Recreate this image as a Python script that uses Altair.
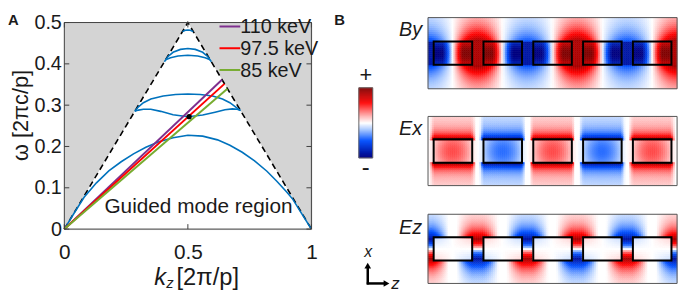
import numpy as np
import pandas as pd
import altair as alt

FONT = "Liberation Sans"
INK = "#1a1a1a"
FRAME = "#404040"

# ---------------- Panel A: dispersion diagram ----------------
light_k = [0.0, 0.5, 1.0]
light_w = [0.0, 0.5, 0.0]

mode1_k = [0, 0.04, 0.08, 0.13, 0.18, 0.23, 0.28, 0.33, 0.38, 0.44, 0.5, 0.56, 0.62, 0.67, 0.72, 0.77, 0.82, 0.86, 0.9, 0.925, 0.96, 1.0]
mode1_w = [0, 0.039, 0.077, 0.112, 0.141, 0.163, 0.182, 0.198, 0.211, 0.221, 0.227, 0.225, 0.216, 0.203, 0.186, 0.165, 0.140, 0.116, 0.09, 0.072, 0.038, 0]
mode2_k = [0.285, 0.30, 0.32, 0.35, 0.39, 0.44, 0.5, 0.56, 0.61, 0.65, 0.68, 0.70, 0.713]
mode2_w = [0.285, 0.288, 0.290, 0.290, 0.285, 0.277, 0.272, 0.276, 0.283, 0.289, 0.291, 0.290, 0.287]
mode3_k = [0.285, 0.30, 0.32, 0.35, 0.40, 0.45, 0.5, 0.55, 0.60, 0.64, 0.67, 0.69, 0.713]
mode3_w = [0.285, 0.296, 0.306, 0.315, 0.322, 0.326, 0.327, 0.326, 0.322, 0.315, 0.306, 0.297, 0.287]
mode4_k = [0.405, 0.42, 0.44, 0.47, 0.5, 0.53, 0.56, 0.58, 0.595]
mode4_w = [0.405, 0.418, 0.428, 0.435, 0.437, 0.435, 0.428, 0.418, 0.405]
mode5_k = [0.41, 0.43, 0.46, 0.5, 0.54, 0.57, 0.59]
mode5_w = [0.41, 0.415, 0.419, 0.421, 0.419, 0.415, 0.41]
mode6_k = [0.478, 0.49, 0.5, 0.51, 0.522]
mode6_w = [0.478, 0.4815, 0.482, 0.4815, 0.478]
modes = [(mode1_k, mode1_w), (mode2_k, mode2_w), (mode3_k, mode3_w),
         (mode4_k, mode4_w), (mode5_k, mode5_w), (mode6_k, mode6_w)]

beam_labels = ["110 keV", "97.5 keV", "85 keV"]
beam_colors = ["#7E2F8E", "#FF0000", "#77AC30"]
beam_end_k = [0.638, 0.648, 0.660]
beam_end_w = [0.3615, 0.3515, 0.3395]

cross_k = [0.505]
cross_w = [0.272]

k_ticks = [0, 0.5, 1]
w_ticks = [0, 0.1, 0.2, 0.3, 0.4, 0.5]

# ---------------- Panel B: field maps ----------------
n_periods = 5
nz = 126
cell = n_periods / nz
pillar_center = [0.5, 1.5, 2.5, 3.5, 4.5]
pillar_half_w = 0.387
pillar_half_h = 0.234
by_node_amp = [-0.6, 1.0, -0.55, 1.0, -0.55, 1.0]
ex_pillar_amp = [1.0, -1.0, 1.0, -1.0, 1.0]
ez_node_sign = [-1, 1, -1, 1, -1, 1]

cmap_dom = [-1, -0.5, -0.18, 0, 0.2, 0.58, 1]
cmap_rng = ["#000080", "#0050ff", "#a8c8ff", "#ffffff", "#ffb0b0", "#ff0000", "#800000"]

# ---------------- build tables ----------------
gray_df = pd.DataFrame({"k": light_k, "w": light_w, "top": [0.5] * 3})
light_df = pd.DataFrame({"k": light_k, "w": light_w})
modes_df = pd.concat([pd.DataFrame({"mode": i, "k": k, "w": w}) for i, (k, w) in enumerate(modes)])
beam_df = pd.concat([pd.DataFrame({"label": [l, l], "k": [0, k], "w": [0, w]})
                     for l, k, w in zip(beam_labels, beam_end_k, beam_end_w)])
dot_df = pd.DataFrame({"k": cross_k, "w": cross_w})
guide_df = pd.DataFrame({"k": [0.543], "w": [0.0526], "t": ["Guided mode region"]})

tx = 0.02
ty = 0.012
ytick_df = pd.DataFrame(
    [{"k": 0, "k2": tx, "w": t, "w2": t} for t in w_ticks] +
    [{"k": 1 - tx, "k2": 1, "w": t, "w2": t} for t in w_ticks])
xtick_df = pd.DataFrame(
    [{"k": t, "k2": t, "w": 0, "w2": ty} for t in k_ticks] +
    [{"k": t, "k2": t, "w": 0.5 - ty, "w2": 0.5} for t in k_ticks])
frame_df = pd.DataFrame({"k": [0], "k2": [1], "w": [0], "w2": [0.5]})

XS = alt.Scale(domain=[0, 1], nice=False, zero=False)
YS = alt.Scale(domain=[0, 0.5], nice=False, zero=False)
xax = alt.Axis(values=k_ticks, labelExpr="datum.value + ''", ticks=False, domain=False, grid=False,
               labelFontSize=21, labelPadding=13, labelFlush=False, title=None,
               labelColor=INK, labelFont=FONT)
yax = alt.Axis(values=w_ticks, labelExpr="datum.value + ''", ticks=False, domain=False, grid=False,
               labelFontSize=20, labelPadding=3, labelFlush=False, title=None,
               labelColor=INK, labelFont=FONT)


def X():
    return alt.X("k:Q", scale=XS, axis=xax)


def Y():
    return alt.Y("w:Q", scale=YS, axis=yax)


gray = alt.Chart(gray_df).mark_area(color="#d4d4d4").encode(x=X(), y=Y(), y2="top:Q")
light = alt.Chart(light_df).mark_line(color="black", strokeDash=[6, 4], strokeWidth=1.6).encode(x=X(), y=Y())
mode_lines = alt.Chart(modes_df).mark_line(color="#0072BD", strokeWidth=1.6).encode(
    x=X(), y=Y(), detail="mode:N")
beams = alt.Chart(beam_df).mark_line(strokeWidth=2).encode(
    x=X(), y=Y(), color=alt.Color("label:N", scale=alt.Scale(domain=beam_labels, range=beam_colors), legend=None))
dot = alt.Chart(dot_df).mark_circle(size=28, color="black", opacity=1).encode(x=X(), y=Y())
guide = alt.Chart(guide_df).mark_text(fontSize=21, font=FONT, color=INK, align="center",
                                      baseline="middle").encode(x=X(), y=Y(), text="t:N")
yticks = alt.Chart(ytick_df).mark_rule(color=FRAME, strokeWidth=1).encode(x=X(), x2="k2:Q", y=Y(), y2="w2:Q")
xticks = alt.Chart(xtick_df).mark_rule(color=FRAME, strokeWidth=1).encode(x=X(), x2="k2:Q", y=Y(), y2="w2:Q")
frame = alt.Chart(frame_df).mark_rect(fillOpacity=0, stroke=FRAME, strokeWidth=1).encode(
    x=X(), x2="k2:Q", y=Y(), y2="w2:Q")

panelA = alt.layer(gray, light, mode_lines, beams, dot, guide, yticks, xticks, frame)

# legend
leg_df = pd.DataFrame({"label": beam_labels, "row": [0, 1, 2]})
LY = alt.Y("row:Q", scale=alt.Scale(domain=[0, 2], range=[4, 48], nice=False, zero=False), axis=None)
leg_rule = alt.Chart(leg_df).mark_rule(strokeWidth=2).encode(
    x=alt.value(157), x2=alt.value(178), y=LY,
    color=alt.Color("label:N", scale=alt.Scale(domain=beam_labels, range=beam_colors), legend=None))
leg_text = alt.Chart(leg_df).mark_text(align="left", baseline="middle", fontSize=20, dy=1,
                                       font=FONT, color=INK).encode(x=alt.value(178), y=LY, text="label:N")


# ---------------- fields ----------------
def grid(nrows):
    half = nrows * cell / 2
    zc = (np.arange(nz) + 0.5) * cell
    xc = -half + (np.arange(nrows) + 0.5) * cell
    Z, Xg = np.meshgrid(zc, xc)
    local = Z - np.floor(Z) - 0.5
    in_band = np.abs(Xg) < pillar_half_h
    in_pillar = in_band & (np.abs(local) < pillar_half_w)
    in_gap = in_band & ~in_pillar
    d = np.maximum(np.abs(Xg) - pillar_half_h, 0)
    return Z, Xg, half, in_pillar, in_gap, d


def by_field():
    Z, Xg, half, inp, ing, d = grid(36)
    node = np.clip(np.rint(Z).astype(int), 0, 5)
    amp = np.array(by_node_amp)[node]
    s = np.sign(amp)
    c = np.abs(np.cos(np.pi * Z))
    b = pillar_half_h
    v = np.where(inp, s * np.clip(1.7 * c, 0, 1) * (1 - 0.3 * (Xg / b) ** 2),
                 np.where(ing, s * 0.85 * c, 0.95 * amp * c * np.exp(-d / 0.33)))
    return Z, Xg, half, v


def ex_field():
    Z, Xg, half, inp, ing, d = grid(35)
    idx = np.clip(np.floor(Z).astype(int), 0, 4)
    s = np.array(ex_pillar_amp)[idx]
    sn = np.abs(np.sin(np.pi * Z))
    b = pillar_half_h
    shape = np.clip((sn - 0.15) / 0.25, 0, 1) ** 0.6
    v = np.where(inp, 0.42 * s * sn * (1 - 0.25 * (Xg / b) ** 2),
                 np.where(ing, 0.2 * s * sn,
                          s * shape * (0.62 * np.exp(-d / 0.09) + 0.36 * np.exp(-d / 0.42))))
    return Z, Xg, half, v


def ez_field():
    Z, Xg, half, inp, ing, d = grid(35)
    node = np.clip(np.rint(Z).astype(int), 0, 5)
    s = np.array(ez_node_sign)[node]
    c = np.abs(np.cos(np.pi * Z))
    sx = np.sign(np.round(Xg, 9))
    b = pillar_half_h
    shape = np.clip((c - 0.25) / 0.7, 0, 1) ** 1.1
    v = np.where(ing, s * sx * (np.abs(Xg) / b) ** 0.8,
                 np.where(inp, 0.12 * s * sx * c * np.abs(Xg) / b,
                          s * sx * shape * 0.78 * np.exp(-d / 0.24)))
    return Z, Xg, half, v


cscale = alt.Scale(domain=cmap_dom, range=cmap_rng, interpolate="rgb", clamp=True)

pillar_df = pd.DataFrame({"z": [c - pillar_half_w for c in pillar_center],
                          "z2": [c + pillar_half_w for c in pillar_center],
                          "x": [-pillar_half_h] * 5, "x2": [pillar_half_h] * 5})


def heat_panel(field, yrange):
    Z, Xg, half, v = field()
    df = pd.DataFrame({"z": np.round(Z.ravel() - cell / 2, 5),
                       "x": np.round(Xg.ravel() - cell / 2, 5),
                       "v": np.round(np.clip(v.ravel(), -1, 1), 3)})
    xs = alt.Scale(domain=[0, n_periods], range=[368, 620], nice=False, zero=False)
    ys = alt.Scale(domain=[-half, half], range=yrange, nice=False, zero=False)
    heat = alt.Chart(df).transform_calculate(
        z2=f"datum.z + {cell}", x2=f"datum.x + {cell}"
    ).mark_rect(strokeWidth=0.5).encode(
        x=alt.X("z:Q", scale=xs, axis=None), x2="z2:Q",
        y=alt.Y("x:Q", scale=ys, axis=None), y2="x2:Q",
        color=alt.Color("v:Q", scale=cscale, legend=None),
        stroke=alt.Stroke("v:Q", scale=cscale, legend=None))
    pill = alt.Chart(pillar_df).mark_rect(fillOpacity=0, stroke="black", strokeWidth=2).encode(
        x=alt.X("z:Q", scale=xs, axis=None), x2="z2:Q",
        y=alt.Y("x:Q", scale=ys, axis=None), y2="x2:Q")
    border_df = pd.DataFrame({"z": [0], "z2": [n_periods], "x": [-half], "x2": [half]})
    border = alt.Chart(border_df).mark_rect(fillOpacity=0, stroke="#555555", strokeWidth=1).encode(
        x=alt.X("z:Q", scale=xs, axis=None), x2="z2:Q",
        y=alt.Y("x:Q", scale=ys, axis=None), y2="x2:Q")
    return alt.layer(heat, pill, border)


by_panel = heat_panel(by_field, [67, -5])
ex_panel = heat_panel(ex_field, [165, 95])
ez_panel = heat_panel(ez_field, [264, 194])

# colorbar
ncb = 71
dv = 2 / ncb
cb_mid = -1 + dv / 2 + np.arange(ncb) * dv
cb_df = pd.DataFrame({"lo": cb_mid - dv / 2, "hi": cb_mid + dv / 2, "v": cb_mid})
CBY = alt.Scale(domain=[-1, 1], range=[137, 66], nice=False, zero=False)
cbar = alt.Chart(cb_df).mark_rect(strokeWidth=0.5).encode(
    x=alt.value(298), x2=alt.value(312),
    y=alt.Y("lo:Q", scale=CBY, axis=None), y2="hi:Q",
    color=alt.Color("v:Q", scale=cscale, legend=None),
    stroke=alt.Stroke("v:Q", scale=cscale, legend=None))
cbar_border = alt.Chart(pd.DataFrame({"a": [0]})).mark_rect(fillOpacity=0, stroke="#666666", strokeWidth=1).encode(
    x=alt.value(298), x2=alt.value(312), y=alt.value(66), y2=alt.value(137))


def txt(s, x, y, size, align="center", baseline="middle", style="normal", weight="normal", angle=0):
    return alt.Chart(pd.DataFrame({"t": [s]})).mark_text(
        fontSize=size, font=FONT, color=INK, align=align, baseline=baseline,
        fontStyle=style, fontWeight=weight, angle=angle
    ).encode(x=alt.value(x), y=alt.value(y), text="t:N")


labels = [
    txt("A", -57, -3, 15, align="left", weight="bold"),
    txt("B", 273, -3, 15, align="left", weight="bold"),
    txt("ω [2πc/p]", -36.5, 94, 22, baseline="alphabetic", angle=270),
    txt("k", 91, 265.5, 24, align="left", baseline="alphabetic", style="italic"),
    txt("z", 103, 269, 15, align="left", baseline="alphabetic", style="italic"),
    txt("[2π/p]", 113.5, 265.5, 24, align="left", baseline="alphabetic"),
    txt("By", 362, 7.6, 20, align="right", style="italic"),
    txt("Ex", 362, 107.7, 20, align="right", style="italic"),
    txt("Ez", 362, 208, 20, align="right", style="italic"),
    txt("+", 305, 53, 22),
    txt("-", 305, 147, 24),
    txt("x", 307.5, 232, 16, style="italic"),
    txt("z", 335, 265, 17, style="italic"),
]

dummy = pd.DataFrame({"a": [0]})
arrows = [
    alt.Chart(dummy).mark_rule(color="black", strokeWidth=2.5).encode(
        x=alt.value(307), y=alt.value(265), y2=alt.value(247)),
    alt.Chart(dummy).mark_rule(color="black", strokeWidth=2.5).encode(
        x=alt.value(306), x2=alt.value(325), y=alt.value(264)),
    alt.Chart(dummy).mark_point(shape="triangle-up", filled=True, size=45, color="black", opacity=1).encode(
        x=alt.value(307), y=alt.value(246)),
    alt.Chart(dummy).mark_point(shape="triangle-right", filled=True, size=45, color="black", opacity=1).encode(
        x=alt.value(326), y=alt.value(264)),
]

chart = alt.layer(
    panelA, leg_rule, leg_text, by_panel, ex_panel, ez_panel, cbar, cbar_border, *labels, *arrows
).resolve_scale(
    x="independent", y="independent", color="independent", stroke="independent"
).properties(
    width=250, height=209,
    autosize=alt.AutoSizeParams(type="none"),
    padding={"left": 57, "top": 13, "right": 377, "bottom": 67},
).configure_view(stroke=None).configure(background="white")

chart.save("out.html", embed_options={"renderer": "svg", "actions": False})
